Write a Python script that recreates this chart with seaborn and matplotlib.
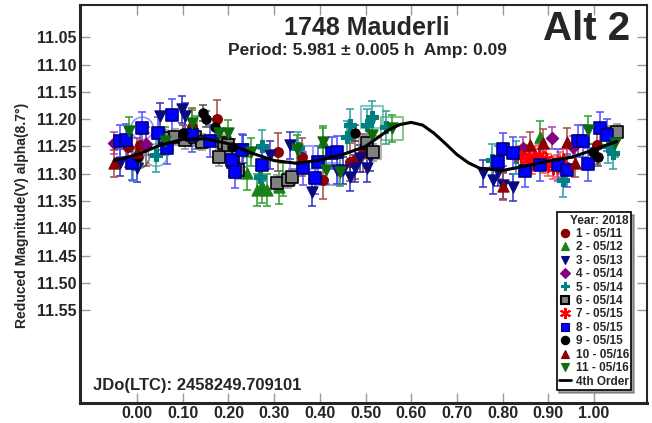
import numpy as np
import pandas as pd
import matplotlib
matplotlib.use("Agg")
import matplotlib.pyplot as plt
from matplotlib.lines import Line2D
import seaborn as sns

sns.set_style("ticks")
plt.rcParams['font.family'] = ['Liberation Sans', 'DejaVu Sans']
plt.rcParams['font.weight'] = 'bold'

# session labels / styles
labels = ["1 - 05/11", "2 - 05/12", "3 - 05/13", "4 - 05/14", "5 - 05/14", "6 - 05/14",
          "7 - 05/15", "8 - 05/15", "9 - 05/15", "10 - 05/16", "11 - 05/16"]

s1_phase = [0.007, -0.02, 0.02, 0.12, 0.175, 0.308, 0.36, 0.407, 0.466, 0.477, 0.495, 1.007]
s1_mag = [11.248, 11.252, 11.250, 11.215, 11.200, 11.260, 11.270, 11.312, 11.279, 11.275, 11.262, 11.248]

s2_phase = [0.13, 0.24, 0.262, 0.273, 0.284, 0.31, 0.32, 0.407, 0.882]
s2_mag = [11.225, 11.299, 11.330, 11.323, 11.330, 11.325, 11.310, 11.242, 11.233]

s3_phase = [-0.037, 0.0, 0.05, 0.098, 0.105, 0.232, 0.29, 0.335, 0.383, 0.437, 0.451, 0.466,
            0.477, 0.488, 0.503, 0.51, 0.757, 0.779, 0.79, 0.80, 0.823]
s3_mag = [11.280, 11.290, 11.195, 11.182, 11.195, 11.255, 11.266, 11.248, 11.334, 11.294, 11.294, 11.306,
          11.290, 11.272, 11.290, 11.270, 11.299, 11.312, 11.297, 11.321, 11.325]

s4_phase = [-0.05, 0.02, 0.845, 0.908, 0.954]
s4_mag = [11.244, 11.245, 11.253, 11.235, 11.251]

s5_phase = [-0.01, 0.042, 0.27, 0.273, 0.352, 0.459, 0.466, 0.503, 0.514, 0.545, 0.777, 0.83, 0.932, 1.03, 1.042]
s5_mag = [11.283, 11.266, 11.306, 11.250, 11.253, 11.233, 11.211, 11.211, 11.196, 11.215, 11.275, 11.270, 11.312, 11.250, 11.262]

s6_phase = [0.06, 0.083, 0.105, 0.127, 0.142, 0.18, 0.19, 0.2, 0.21, 0.22, 0.306, 0.33, 0.34, 0.503, 0.516, 1.035, 1.05]
s6_mag = [11.235, 11.233, 11.239, 11.233, 11.242, 11.270, 11.244, 11.248, 11.279, 11.294, 11.317, 11.312, 11.306, 11.244, 11.261, 11.228, 11.224]

s7_phase = [0.84, 0.853, 0.858, 0.864, 0.871, 0.88, 0.889, 0.895, 0.9, 0.91, 0.918, 0.926, 0.932]
s7_mag = [11.270, 11.275, 11.268, 11.281, 11.270, 11.265, 11.279, 11.273, 11.284, 11.290, 11.286, 11.281, 11.275]

s8_phase = [-0.037, -0.024, -0.011, 0.011, 0.046, 0.066, 0.077, 0.12, 0.16, 0.207, 0.214, 0.23, 0.273,
            0.363, 0.39, 0.396, 0.427, 0.437, 0.79, 0.80, 0.823, 0.849, 0.882, 0.921, 0.94, 0.965,
            0.976, 0.987, 1.013, 1.028]
s8_mag = [11.240, 11.239, 11.281, 11.217, 11.226, 11.253, 11.193, 11.230, 11.240, 11.275, 11.297, 11.257, 11.284,
          11.290, 11.308, 11.279, 11.262, 11.261, 11.279, 11.255, 11.262, 11.295, 11.284, 11.284, 11.294, 11.240,
          11.240, 11.283, 11.217, 11.229]

s9_phase = [0.002, 0.1, 0.144, 0.15, 0.17, 0.207, 0.477, 0.998, 1.009]
s9_mag = [11.270, 11.225, 11.189, 11.200, 11.215, 11.251, 11.226, 11.261, 11.270]

s10_phase = [-0.05, 0.0, 0.80, 0.86, 0.889, 0.94, 0.958]
s10_mag = [11.281, 11.260, 11.323, 11.248, 11.244, 11.242, 11.281]

s11_phase = [-0.017, 0.06, 0.12, 0.18, 0.2, 0.25, 0.35, 0.407, 0.414, 0.444, 0.514, 0.558, 0.987, 1.046]
s11_mag = [11.222, 11.240, 11.208, 11.226, 11.226, 11.260, 11.255, 11.242, 11.294, 11.297, 11.229, 11.217, 11.220, 11.244]

# typical error bar per session (mag)
session_err = [0.035, 0.03, 0.025, 0.02, 0.03, 0.015, 0.02, 0.03, 0.015, 0.025, 0.025]

# points drawn with a hollow highlight ring/box in the original
ring_phase = [0.011, 0.042, 0.002]
ring_mag = [11.217, 11.266, 11.270]
ring_colors = ['#6060ff', '#40a0a0', '#404040']
box_phase = [0.514, 0.558, 0.51, 0.36, 0.415]
box_mag = [11.196, 11.217, 11.252, 11.27, 11.30]
box_colors = ['#40a0a0', '#40a040', '#808080', '#6060ff', '#6060ff']

# 4th order fit
curve_phase = [-0.05, 0.0, 0.05, 0.10, 0.15, 0.20, 0.25, 0.30, 0.35, 0.40, 0.45, 0.50,
               0.55, 0.575, 0.60, 0.625, 0.65, 0.675, 0.70, 0.725, 0.75, 0.80, 0.85, 0.90,
               0.95, 1.00, 1.05]
curve_mag = [11.276, 11.265, 11.248, 11.237, 11.236, 11.245, 11.262, 11.276, 11.281, 11.275, 11.265, 11.250,
             11.220, 11.210, 11.206, 11.211, 11.226, 11.245, 11.265, 11.280, 11.290, 11.294, 11.286, 11.277,
             11.270, 11.256, 11.241]

y_ticks = [11.05, 11.10, 11.15, 11.20, 11.25, 11.30, 11.35, 11.40, 11.45, 11.50, 11.55]
x_ticks = [0.0, 0.1, 0.2, 0.3, 0.4, 0.5, 0.6, 0.7, 0.8, 0.9, 1.0]

phases = [s1_phase, s2_phase, s3_phase, s4_phase, s5_phase, s6_phase, s7_phase, s8_phase, s9_phase, s10_phase, s11_phase]
mags = [s1_mag, s2_mag, s3_mag, s4_mag, s5_mag, s6_mag, s7_mag, s8_mag, s9_mag, s10_mag, s11_mag]

colors = ['#8b0000', '#1a801a', '#0a0a80', '#800080', '#008080', '#808080',
          '#ff0000', '#0000ff', '#000000', '#8b0000', '#0d6b0d']
bar_colors = ['#a84848', '#30a030', '#3030c0', '#a848a8', '#30a0a0', '#909090',
              '#ff5050', '#5050ff', '#505050', '#a84848', '#30a030']
markers = ['o', '^', 'v', 'D', 'P', 's', (6, 2, 0), 's', 'o', '^', 'v']
edges = ['#8b0000', '#1a801a', '#0a0a80', '#800080', '#008080', '#000000',
         '#ff0000', '#000080', '#000000', '#8b0000', '#0d6b0d']
sizes = [50, 65, 65, 40, 80, 70, 80, 70, 45, 65, 65]

rows = []
for i in range(len(labels)):
    for p, m in zip(phases[i], mags[i]):
        rows.append({"session": labels[i], "phase": p, "mag": m, "err": session_err[i]})
df = pd.DataFrame(rows)

fig = plt.figure(figsize=(6.52, 4.23), dpi=100)
ax = fig.add_axes([80 / 652, 20 / 423, 567 / 652, 398 / 423])

for i, lab in enumerate(labels):
    d = df[df.session == lab]
    ax.errorbar(d.phase, d.mag, yerr=d.err, fmt='none', ecolor=bar_colors[i],
                elinewidth=1.3, capsize=3, capthick=1.3, alpha=0.85, zorder=2)

sns.scatterplot(x=ring_phase, y=ring_mag, ax=ax, marker='o', s=260, facecolor='none',
                edgecolor=ring_colors, linewidth=1.2, alpha=0.7, zorder=2.5, legend=False)
sns.scatterplot(x=box_phase, y=box_mag, ax=ax, marker='s', s=260, facecolor='none',
                edgecolor=box_colors, linewidth=1.5, alpha=0.6, zorder=2.5, legend=False)

for i, lab in enumerate(labels):
    d = df[df.session == lab]
    if markers[i] == (6, 2, 0):
        sns.scatterplot(data=d, x="phase", y="mag", ax=ax, marker=markers[i], color=colors[i],
                        s=sizes[i], linewidth=1.5, zorder=3, legend=False)
    else:
        sns.scatterplot(data=d, x="phase", y="mag", ax=ax, marker=markers[i], color=colors[i],
                        edgecolor=edges[i], s=sizes[i], linewidth=1.2 if i in (5, 7) else 0.8,
                        zorder=3, legend=False)

sns.lineplot(x=curve_phase, y=curve_mag, ax=ax, color='black', linewidth=2.2, sort=False, zorder=4)

ax.set_xlim(-0.125, 1.116)
ax.set_ylim(11.72, 10.991)
ax.set_xticks(x_ticks)
ax.set_xticklabels([f"{v:.2f}" for v in x_ticks])
ax.set_yticks(y_ticks)
ax.set_yticklabels([f"{v:.2f}" for v in y_ticks])
ax.tick_params(direction='in', length=7, width=1, color='#999999', top=True, right=True,
               labelsize=11.5)
ax.tick_params(axis='x', pad=2.5)
ax.tick_params(axis='y', pad=2.5)
for t in ax.get_xticklabels() + ax.get_yticklabels():
    t.set_fontweight('bold')
for side in ['left', 'bottom']:
    ax.spines[side].set_linewidth(2.2)
for side in ['top', 'right']:
    ax.spines[side].set_linewidth(1.5)
ax.set_xlabel("")
ax.set_ylabel("")

fig.text(22 / 652, 1 - 215 / 423, "Reduced Magnitude(V) alpha(8.7°)", rotation=90,
         ha='center', va='center', fontsize=10, fontweight='bold')
fig.text(367 / 652, 1 - 28 / 423, "1748 Mauderli", ha='center', va='center',
         fontsize=18, fontweight='bold')
fig.text(367 / 652, 1 - 51 / 423, "Period: 5.981 ± 0.005 h  Amp: 0.09", ha='center', va='center',
         fontsize=12.5, fontweight='bold')
fig.text(587 / 652, 1 - 29 / 423, "Alt 2", ha='center', va='center',
         fontsize=29, fontweight='bold')
fig.text(93 / 652, 1 - 385 / 423, "JDo(LTC): 2458249.709101", ha='left', va='center',
         fontsize=12, fontweight='bold')

handles = []
for i, lab in enumerate(labels):
    if markers[i] == (6, 2, 0):
        h = Line2D([], [], linestyle='none', marker=markers[i], color=colors[i],
                   markersize=8, markeredgewidth=1.5)
    else:
        h = Line2D([], [], linestyle='none', marker=markers[i], markerfacecolor=colors[i],
                   markeredgecolor=edges[i], markersize=6 if markers[i] != 'D' else 5,
                   markeredgewidth=1.5 if i == 5 else 0.8)
    handles.append(h)
handles.append(Line2D([], [], color='black', linewidth=2))
leg = ax.legend(handles, labels + ["4th Order"], title="Year: 2018", loc='lower right',
                bbox_to_anchor=(0.972, 0.033), frameon=True, fancybox=False, shadow=True,
                prop={'weight': 'bold', 'size': 8.5}, handlelength=1.0, handletextpad=0.4,
                labelspacing=0.12, borderpad=0.2, borderaxespad=0)
leg.get_title().set_fontweight('bold')
leg.get_title().set_fontsize(8.5)
leg._legend_box.align = "right"
leg.get_frame().set_edgecolor('black')
leg.get_frame().set_linewidth(1.2)

fig.savefig("out.png", dpi=100)
